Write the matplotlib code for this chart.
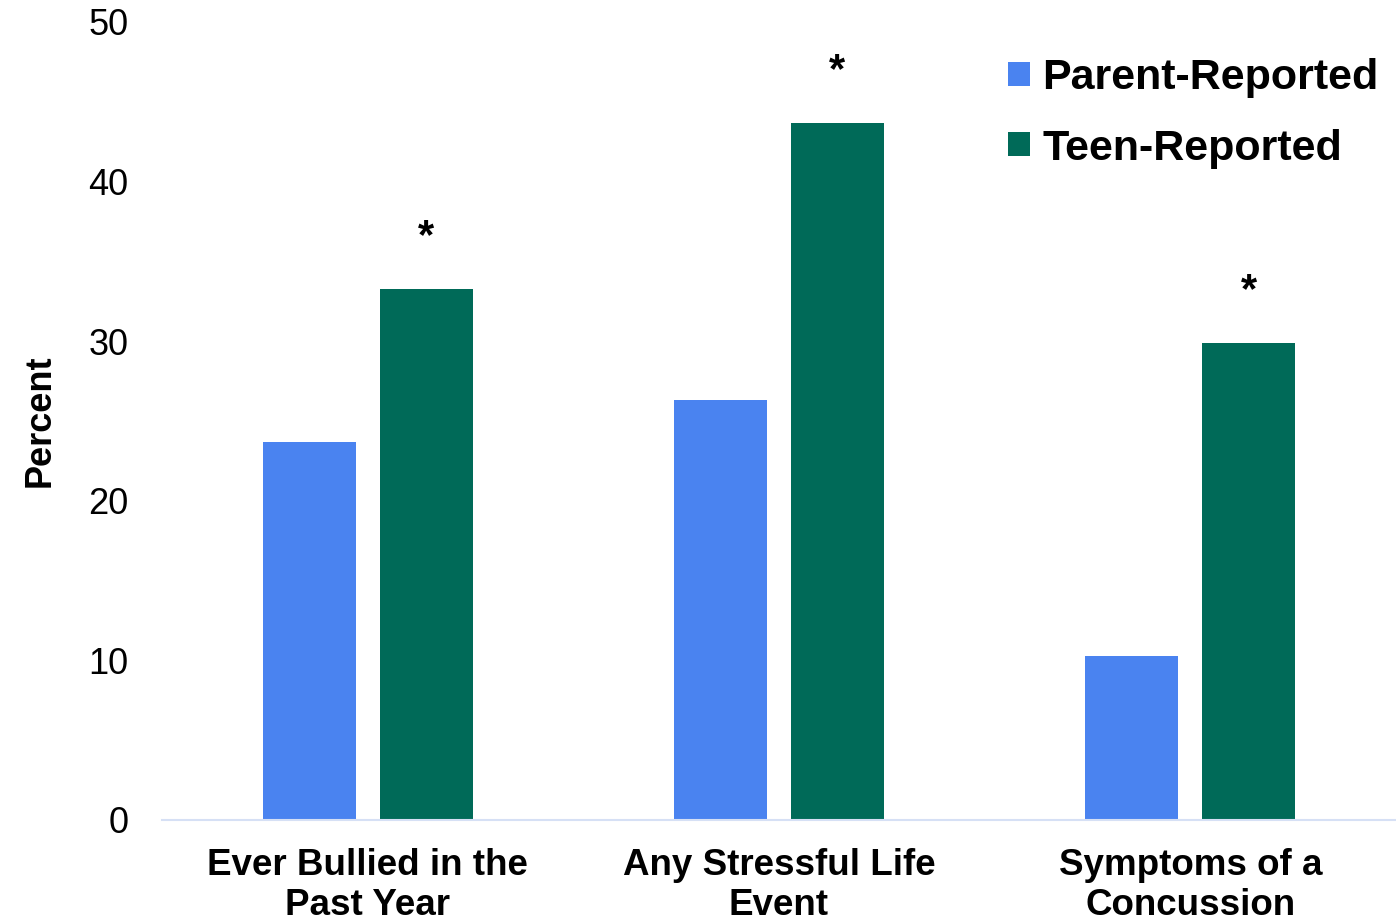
import numpy as np
import matplotlib.pyplot as plt

plt.rcParams['font.family'] = ['Liberation Sans', 'DejaVu Sans']

categories = ['Ever Bullied in the\nPast Year', 'Any Stressful Life\nEvent',
              'Symptoms of a\nConcussion']
parent = [23.7, 26.3, 10.3]
teen = [33.3, 43.7, 29.9]
significant = [True, True, True]

PARENT_COLOR = '#4a83f0'
TEEN_COLOR = '#006a58'

fig = plt.figure(figsize=(13.96, 9.24), dpi=100)
ax = fig.add_axes([0.116, 0.1126, 0.884, 0.8636])

x = np.arange(len(categories))
offset = 0.142
width = 0.226

ax.bar(x - offset, parent, width, color=PARENT_COLOR, label='Parent-Reported')
ax.bar(x + offset, teen, width, color=TEEN_COLOR, label='Teen-Reported')

for xi, val, sig in zip(x, teen, significant):
    if sig:
        ax.text(xi + offset, val + 2.0, '*', ha='center', va='bottom',
                fontsize=30, fontweight='bold')

ax.set_xlim(-0.5, 2.5)
ax.set_ylim(0, 50)
ax.set_yticks(np.arange(0, 51, 10))
ax.set_xticks(x)
ax.set_xticklabels(categories, fontsize=26.5, fontweight='bold', linespacing=1.2)
ax.tick_params(axis='both', length=0)
ax.tick_params(axis='y', labelsize=26, pad=24)
ax.tick_params(axis='x', pad=20)

for side in ['top', 'right', 'left']:
    ax.spines[side].set_visible(False)
ax.spines['bottom'].set_color('#d6e0f5')
ax.spines['bottom'].set_linewidth(1.5)

ax.set_ylabel('Percent', fontsize=26, fontweight='bold',
              family=['Liberation Sans Narrow', 'Liberation Sans'], labelpad=22)

ax.legend(loc='upper right', bbox_to_anchor=(1.0, 0.976), frameon=False,
          prop={'size': 31, 'weight': 'bold'}, handlelength=0.5,
          handleheight=0.5, handletextpad=0.3, labelspacing=0.7,
          borderaxespad=0.0)

fig.savefig('out.png', dpi=100)
